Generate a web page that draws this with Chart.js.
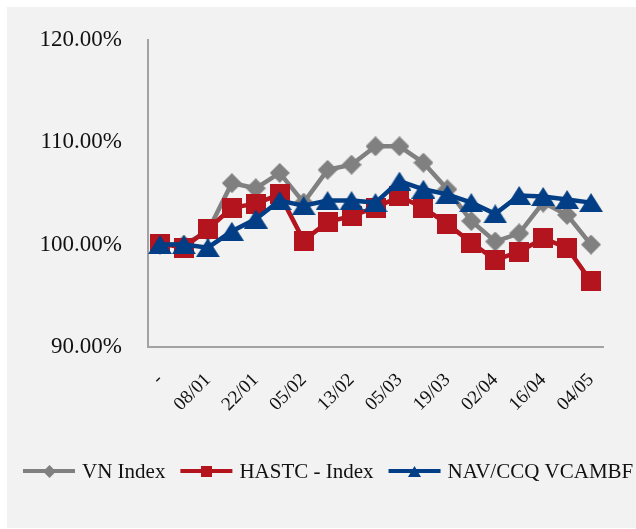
<!DOCTYPE html>
<html>
<head>
<meta charset="utf-8">
<script src="https://cdn.jsdelivr.net/npm/chart.js@4.4.0/dist/chart.umd.min.js"></script>
<style>
  html, body { margin: 0; padding: 0; background: #fff; }
  #panel { position: absolute; left: 7px; top: 7px; width: 629px; height: 521px; background: #f2f2f2; }
  #wrap { position: absolute; left: 0; top: 0; width: 636px; height: 529px; }
</style>
</head>
<body>
<div id="panel"></div>
<div id="wrap"><canvas id="chart" width="636" height="529"></canvas></div>
<script>
// Categories (only every other date is labelled on the axis)
const categories = ['-', '', '08/01', '', '22/01', '', '05/02', '', '13/02', '', '05/03', '', '19/03', '', '02/04', '', '16/04', '', '04/05'];

// Series values, % of starting value
const vnIndex = [100.0, 100.0, 101.3, 106.0, 105.5, 107.0, 104.1, 107.3, 107.8, 109.6, 109.6, 108.0, 105.4, 102.3, 100.3, 101.1, 104.1, 102.9, 100.0];
const hastcIndex = [100.1, 99.7, 101.5, 103.6, 104.0, 104.9, 100.4, 102.2, 102.8, 103.6, 104.7, 103.6, 102.0, 100.2, 98.5, 99.3, 100.6, 99.7, 96.4];
const navVcambf = [100.0, 100.0, 99.7, 101.3, 102.5, 104.3, 103.8, 104.3, 104.3, 104.1, 106.2, 105.4, 104.9, 104.1, 103.0, 104.8, 104.7, 104.4, 104.1];

// Y axis ticks
const yTicks = [90, 100, 110, 120];

const FONT = '"Liberation Serif", "Times New Roman", serif';

// small canvases used as point markers (centred like Excel markers)
function makeMarker(shape, w, h, color) {
  const c = document.createElement('canvas');
  c.width = w; c.height = h;
  const g = c.getContext('2d');
  g.fillStyle = color;
  g.beginPath();
  if (shape === 'diamond') {
    g.moveTo(w / 2, 0); g.lineTo(w, h / 2); g.lineTo(w / 2, h); g.lineTo(0, h / 2);
  } else if (shape === 'triangle') {
    g.moveTo(w / 2, 0); g.lineTo(w, h); g.lineTo(0, h);
  } else {
    g.rect(0, 0, w, h);
  }
  g.closePath();
  g.fill();
  return c;
}

const GRAY = '#808080', RED = '#B3141E', BLUE = '#023E85';

const legendPlugin = {
  id: 'lineLegend',
  afterDraw(chart) {
    const ctx = chart.ctx;
    ctx.save();
    ctx.font = '21px ' + FONT;
    ctx.textBaseline = 'middle';
    let x = 23;
    const y = 471;
    chart.data.datasets.forEach(ds => {
      ctx.strokeStyle = ds.borderColor;
      ctx.lineWidth = 4;
      ctx.beginPath();
      ctx.moveTo(x, y);
      ctx.lineTo(x + 52, y);
      ctx.stroke();
      const m = ds.legendMarker;
      ctx.drawImage(m, Math.round(x + 26 - m.width / 2), Math.round(y - m.height / 2));
      ctx.fillStyle = '#111';
      ctx.fillText(ds.label, x + 59, y + 1);
      x += 59 + ctx.measureText(ds.label).width + 15;
    });
    ctx.restore();
  }
};

function series(label, data, color, marker, legendMarker, order) {
  return {
    label: label,
    data: data,
    borderColor: color,
    backgroundColor: color,
    borderWidth: 4.5,
    tension: 0,
    pointStyle: marker,
    pointRadius: 10,
    pointBorderWidth: 0,
    legendMarker: legendMarker,
    order: order
  };
}

const ctx = document.getElementById('chart').getContext('2d');
new Chart(ctx, {
  type: 'line',
  data: {
    labels: categories,
    datasets: [
      series('VN Index', vnIndex, GRAY, makeMarker('diamond', 20, 20, GRAY), makeMarker('diamond', 13, 13, GRAY), 3),
      series('HASTC - Index', hastcIndex, RED, makeMarker('square', 20, 20, RED), makeMarker('square', 11, 11, RED), 2),
      series('NAV/CCQ VCAMBF', navVcambf, BLUE, makeMarker('triangle', 24, 19, BLUE), makeMarker('triangle', 13, 11, BLUE), 1)
    ]
  },
  options: {
    responsive: false,
    animation: false,
    layout: { padding: { left: 40, right: 33, top: 37, bottom: 82 } },
    plugins: { legend: { display: false }, tooltip: { enabled: false } },
    scales: {
      x: {
        offset: true,
        grid: { display: false, drawTicks: false },
        border: { display: true, color: '#a3a3a3', width: 2 },
        ticks: {
          autoSkip: false, maxRotation: 45, minRotation: 45, padding: 22,
          color: '#111', font: { family: FONT, size: 19 }
        },
        afterFit(scale) { scale.height = 100; }
      },
      y: {
        min: yTicks[0],
        max: yTicks[yTicks.length - 1],
        afterBuildTicks(scale) { scale.ticks = yTicks.map(v => ({ value: v })); },
        grid: { display: false, drawTicks: false },
        border: { display: true, color: '#a3a3a3', width: 2 },
        ticks: {
          padding: 26, color: '#111', font: { family: FONT, size: 23 },
          callback: v => v.toFixed(2) + '%'
        },
        afterFit(scale) { scale.width = 108; }
      }
    }
  },
  plugins: [legendPlugin]
});
</script>
</body>
</html>
